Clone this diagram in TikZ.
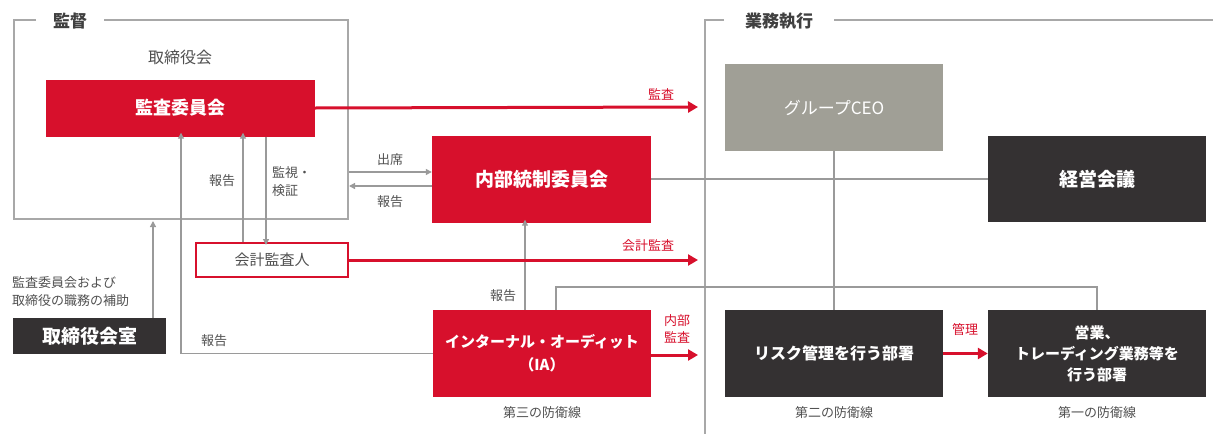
\documentclass[tikz,border=0pt]{standalone}
\usepackage{fontspec}
\setmainfont{Noto Sans CJK JP}
\usetikzlibrary{arrows.meta}
\definecolor{cred}{HTML}{D7102C}
\definecolor{cdark}{HTML}{343132}
\definecolor{cgrayb}{HTML}{A09F96}
\definecolor{cframe}{HTML}{A8A8A8}
\definecolor{ctext}{HTML}{505050}
\definecolor{cline}{HTML}{9A9A9A}
\definecolor{ctitle}{HTML}{404040}
\tikzset{
  frame/.style={draw=cframe, line width=2pt},
  titlelab/.style={text=ctitle, font=\fontsize{17}{20}\selectfont\bfseries},
  boxbase/.style={rectangle, inner sep=0pt, align=center, text=white},
  redbox/.style={boxbase, fill=cred},
  darkbox/.style={boxbase, fill=cdark},
  ceobox/.style={boxbase, fill=cgrayb},
  whitebox/.style={rectangle, inner sep=0pt, align=center, fill=white, draw=cred, line width=2pt, text=ctext},
  lab/.style={text=ctext, inner sep=0pt, align=center, font=\fontsize{13}{18}\selectfont},
  redlab/.style={text=cred, inner sep=0pt, align=center, font=\fontsize{13}{17}\selectfont},
  gline/.style={draw=cline, line width=1.3pt},
  garrow/.style={gline, -{Triangle[length=6pt,width=6pt]}},
  rarrow/.style={draw=cred, line width=3pt, -{Triangle[length=10pt,width=11pt]}},
}
\begin{document}
\begin{tikzpicture}[x=1pt,y=-1pt]
\useasboundingbox (0,0) rectangle (1213,434);

% frames
\draw[frame] (36,20) -- (14,20) -- (14,219) -- (348,219) -- (348,20) -- (104,20);
\node[titlelab] (t1) at (70,21) {監督};
\draw[frame] (724,20) -- (705,20) -- (705,434);
\draw[frame] (834,20) -- (1213,20);
\node[titlelab] (t2) at (779,21) {業務執行};

% coordinates
\coordinate (x153) at (153,0);
\coordinate (x181) at (181,0);
\coordinate (x243) at (243,0);
\coordinate (x266) at (266,0);
\coordinate (x525) at (525,0);
\coordinate (x556) at (556,0);
\coordinate (y287) at (0,287);
\coordinate (frameBot) at (153,221);
\coordinate (L1) at (349,172);
\coordinate (L2) at (349,186);
\coordinate (e1) at (698,107);
\coordinate (e2) at (698,260);
\coordinate (e3) at (698,355);

% nodes
\node[lab, font=\fontsize{16}{20}\selectfont] (torishimari) at (180,57) {取締役会};
\node[redbox, minimum width=269pt, minimum height=57pt, font=\fontsize{18}{22}\selectfont\bfseries] (kansa) at (180.5,108) {監査委員会};
\node[redbox, minimum width=219pt, minimum height=87pt, font=\fontsize{19}{23}\selectfont\bfseries] (naibu) at (541.5,179) {内部統制委員会};
\node[whitebox, minimum width=152pt, minimum height=34pt, font=\fontsize{15}{18}\selectfont] (kaikei) at (272,260) {会計監査人};
\node[darkbox, minimum width=153pt, minimum height=36pt, font=\fontsize{19}{22}\selectfont\bfseries] (shitsu) at (89.5,336) {取締役会室};
\node[redbox, minimum width=218pt, minimum height=87pt, font=\fontsize{15}{23}\selectfont\bfseries] (ia) at (542,353.5) {インターナル・オーディット\\（IA）};
\node[ceobox, minimum width=218pt, minimum height=87pt, font=\fontsize{17}{21}\selectfont] (ceo) at (834,107.5) {グループCEO};
\node[darkbox, minimum width=218pt, minimum height=86pt, font=\fontsize{19}{23}\selectfont\bfseries] (keiei) at (1097,179) {経営会議};
\node[darkbox, minimum width=218pt, minimum height=87pt, font=\fontsize{16}{20}\selectfont\bfseries] (risk) at (834,353.5) {リスク管理を行う部署};
\node[darkbox, minimum width=218pt, minimum height=87pt, font=\fontsize{15}{21}\selectfont\bfseries] (eigyo) at (1097,353.5) {営業、\\トレーディング業務等を\\行う部署};

% labels
\node[lab, align=left, anchor=west] (hojo) at (12,292) {監査委員会および\\取締役の職務の補助};
\node[lab] (hk1) at (222,181) {報告};
\node[lab, align=left, anchor=west] (kanshi) at (272,182) {監視・\\検証};
\node[lab] (hk2) at (214,341) {報告};
\node[lab] (shusseki) at (390,160) {出席};
\node[lab] (hk3) at (390,202) {報告};
\node[lab] (hk4) at (503,296) {報告};
\node[redlab] (lk1) at (661,94) {監査};
\node[redlab] (lk2) at (648,246) {会計監査};
\node[redlab] (lk3) at (677,329) {内部\\監査};
\node[redlab] (lk4) at (965,330) {管理};
\node[lab] (d3) at (542,413) {第三の防衛線};
\node[lab] (d2) at (834,413) {第二の防衛線};
\node[lab] (d1) at (1097,413) {第一の防衛線};

% gray connectors
\draw[garrow] (ia.west) -| ([yshift=4pt]kansa.south -| x181);
\draw[garrow] (kaikei.north -| x243) -- ([yshift=4pt]kansa.south -| x243);
\draw[garrow] (kansa.south -| x266) -- ([yshift=-3pt]kaikei.north -| x266);
\draw[garrow] (shitsu.north -| x153) -- (frameBot);
\draw[garrow] (L1) -- (L1 -| naibu.west);
\draw[garrow] (L2 -| naibu.west) -- (L2);
\draw[gline] (naibu.east) -- (keiei.west);
\draw[garrow] (ia.north -| x525) -- ([yshift=3pt]naibu.south -| x525);
\draw[gline] (ia.north -| x556) -- (x556 |- y287) -- (eigyo.north |- y287) -- (eigyo.north);
\draw[gline] (ceo.south) -- (risk.north);

% red arrows
\draw[rarrow] (kansa.east) -- (e1);
\draw[rarrow] (kaikei.east) -- (e2);
\draw[rarrow] (ia.east |- e3) -- (e3);
\draw[rarrow] (risk.east) -- (eigyo.west);
\end{tikzpicture}
\end{document}
